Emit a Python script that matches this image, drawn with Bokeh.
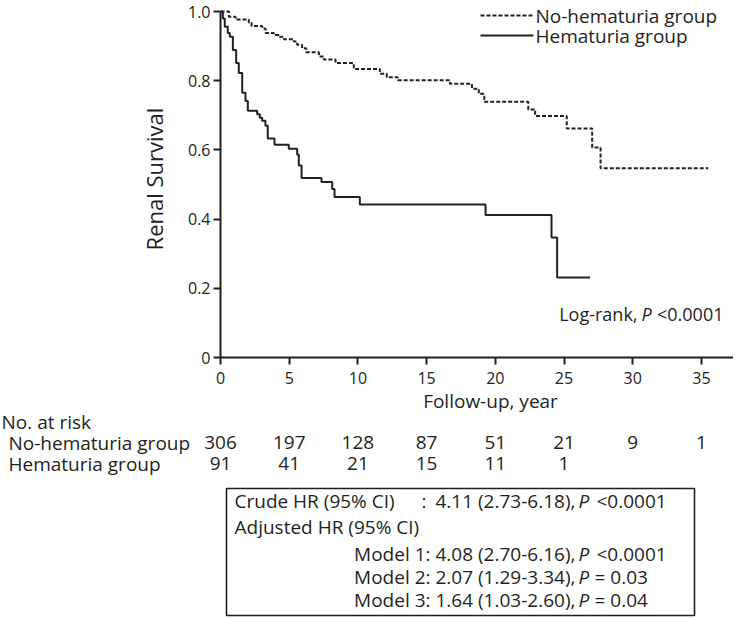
from bokeh.plotting import figure
from bokeh.models import Range1d, FixedTicker, ColumnDataSource
from bokeh.core.properties import value
from bokeh.embed import file_html
from bokeh.resources import INLINE

# ---------------- data ----------------
noh_time = [0, 0.61, 1.09, 2.06, 2.26, 3.03, 3.28, 3.88, 4.25, 4.61, 5.34, 5.58,
            5.94, 6.24, 7.16, 7.52, 8.37, 9.70, 11.60, 12.10, 12.90, 16.70, 18.30,
            18.80, 19.20, 22.40, 22.90, 25.20, 27.05, 27.66, 35.5]
noh_surv = [1.0, 0.985, 0.977, 0.968, 0.958, 0.951, 0.938, 0.932, 0.927, 0.920,
            0.913, 0.904, 0.894, 0.882, 0.870, 0.861, 0.851, 0.834, 0.820, 0.810,
            0.801, 0.791, 0.777, 0.762, 0.739, 0.717, 0.698, 0.662, 0.607, 0.547, 0.547]

hem_time = [0, 0.17, 0.31, 0.53, 0.68, 0.90, 1.14, 1.33, 1.58, 1.82, 1.99, 2.67,
            2.86, 3.03, 3.27, 3.44, 3.93, 4.97, 5.58, 5.70, 5.90, 7.35, 8.13, 8.30,
            10.14, 19.29, 24.09, 24.50, 26.9]
hem_surv = [1.0, 0.98, 0.956, 0.938, 0.927, 0.889, 0.851, 0.822, 0.765, 0.741,
            0.713, 0.703, 0.693, 0.684, 0.670, 0.633, 0.615, 0.603, 0.586, 0.555,
            0.519, 0.507, 0.487, 0.464, 0.442, 0.412, 0.347, 0.231, 0.231]

x_ticks = [0, 5, 10, 15, 20, 25, 30, 35]
y_ticks = [0, 0.2, 0.4, 0.6, 0.8, 1.0]
y_tick_labels = ["0", "0.2", "0.4", "0.6", "0.8", "1.0"]

group_names = ["No-hematuria group", "Hematuria group"]
risk_times = [0, 5, 10, 15, 20, 25, 30, 35]
noh_at_risk = [306, 197, 128, 87, 51, 21, 9, 1]
hem_at_risk = [91, 41, 21, 15, 11, 1]

y_title = "Renal Survival"
x_title = "Follow-up, year"
risk_title = "No. at risk"
logrank_label = "Log-rank,"
logrank_p = "<0.0001"

crude_label = "Crude HR (95% CI)"
crude_hr = "4.11 (2.73-6.18),"
crude_p = "<0.0001"
adjusted_label = "Adjusted HR (95% CI)"
model_names = ["Model 1:", "Model 2:", "Model 3:"]
model_hr = ["4.08 (2.70-6.16),", "2.07 (1.29-3.34),", "1.64 (1.03-2.60),"]
model_p = ["<0.0001", "= 0.03", "= 0.04"]

# ---------------- layout / style ----------------
FONT = "Open Sans"
INK = "#231f20"
W, H = 733, 617
LEFT = 220                 # page x of the y axis
AX_Y = 357                 # page y of the x axis
TOP_Y = 11                 # page y of survival 1.0
BOTTOM1 = 36               # room for the x tick labels
OVERLAP = 14               # lower panel slides up under the tick labels
FW = W - LEFT
FH = AX_Y
PX = 13.74                 # pixels per year
PY = AX_Y - TOP_Y          # pixels per unit survival
X_END = FW / PX
Y_END = FH / PY
TOP2 = FH + BOTTOM1 - OVERLAP   # page y where the lower panel starts
H2 = H - TOP2


def tx(page_x):
    """page x (px) -> years"""
    return (page_x - LEFT) / PX


def ty(page_y):
    """page y (px) -> survival units"""
    return (AX_Y - page_y) / PY


# ---------------- survival plot ----------------
p = figure(frame_width=FW, frame_height=FH,
           x_range=Range1d(0, X_END), y_range=Range1d(0, Y_END),
           output_backend="svg", toolbar_location=None,
           min_border_left=LEFT, min_border_right=0, min_border_top=0,
           min_border_bottom=BOTTOM1)
p.outline_line_color = None
p.xgrid.visible = False
p.ygrid.visible = False
p.background_fill_color = "white"
p.border_fill_color = "white"

for ax in (p.xaxis[0], p.yaxis[0]):
    ax.axis_line_width = 2
    ax.axis_line_color = INK
    ax.major_tick_line_width = 2
    ax.major_tick_line_color = INK
    ax.major_tick_out = 7
    ax.major_tick_in = 0
    ax.minor_tick_line_color = None
    ax.major_label_text_font = FONT
    ax.major_label_text_font_size = "16px"
    ax.major_label_text_color = INK

p.xaxis[0].ticker = FixedTicker(ticks=x_ticks)
p.xaxis[0].major_label_standoff = 7
p.yaxis[0].ticker = FixedTicker(ticks=y_ticks)
p.yaxis[0].major_label_overrides = dict(zip(y_ticks, y_tick_labels))
p.yaxis[0].bounds = (0, 1.0)
p.yaxis[0].major_label_standoff = 3
p.yaxis[0].axis_label = y_title
p.yaxis[0].axis_label_text_font = FONT
p.yaxis[0].axis_label_text_font_size = "22px"
p.yaxis[0].axis_label_text_font_style = "normal"
p.yaxis[0].axis_label_text_color = INK
p.yaxis[0].axis_label_standoff = 16

# survival curves
p.step(noh_time, noh_surv, mode="after", line_color=INK, line_width=2,
       line_dash="4 2")
p.step(hem_time, hem_surv, mode="after", line_color=INK, line_width=2)

# legend (drawn by hand, like the original)
leg_y = [ty(15), ty(35)]
p.line([tx(480), tx(533)], [leg_y[0], leg_y[0]], line_color=INK,
       line_width=1.8, line_dash="4 2")
p.line([tx(480), tx(533)], [leg_y[1], leg_y[1]], line_color=INK, line_width=2)
p.text(x=[tx(535), tx(535)], y=leg_y, text=group_names,
       text_font=value(FONT), text_font_size="19px", text_color=INK,
       text_baseline="middle", text_align="left")

# log-rank annotation
lr_y = ty(313)
LR = dict(text_font=value(FONT), text_font_size="18px", text_color=INK,
          text_baseline="middle")
p.text(x=[tx(637)], y=[lr_y], text=[logrank_label], text_align="right", **LR)
p.text(x=[tx(641)], y=[lr_y], text=["P"], text_align="left",
       text_font_style="italic", **LR)
p.text(x=[tx(723)], y=[lr_y], text=[logrank_p], text_align="right", **LR)

# ---------------- lower panel: axis title, numbers at risk, HR box ----------------
# same time scale as the plot above; y measured in page pixels (downwards)
q = figure(frame_width=W, frame_height=H2,
           x_range=Range1d(tx(0), tx(W)), y_range=Range1d(H, TOP2),
           x_axis_location=None, y_axis_location=None,
           output_backend="svg", toolbar_location=None, min_border=0)
q.margin = (-OVERLAP, 0, 0, 0)
q.xgrid.visible = False
q.ygrid.visible = False
q.outline_line_color = None
q.background_fill_color = None
q.border_fill_color = None

TXT = dict(text_font=value(FONT), text_font_size="19px", text_color=INK,
           text_baseline="middle")

q.text(x=[tx(490)], y=[400], text=[x_title], text_align="center", **TXT)
q.text(x=[tx(1)], y=[421], text=[risk_title], text_align="left", **TXT)
q.text(x=[tx(8), tx(8)], y=[442, 463], text=group_names, text_align="left", **TXT)

risk_src = ColumnDataSource(dict(
    x=risk_times + risk_times[:len(hem_at_risk)],
    y=[442] * len(noh_at_risk) + [463] * len(hem_at_risk),
    text=[str(v) for v in noh_at_risk] + [str(v) for v in hem_at_risk]))
q.text(x="x", y="y", text="text", source=risk_src, text_align="center", **TXT)

# HR box
q.quad(left=[tx(226)], right=[tx(694)], top=[488], bottom=[615],
       fill_color=None, line_color=INK, line_width=1.6)

row_y = [500, 526, 553, 576, 599]
q.text(x=[tx(234), tx(234)], y=row_y[:2], text=[crude_label, adjusted_label],
       text_align="left", **TXT)
q.text(x=[tx(421)], y=[row_y[0]], text=[":"], text_align="left", **TXT)
q.text(x=[tx(430)] * 3, y=row_y[2:], text=model_names, text_align="right", **TXT)
hr_rows = [row_y[0]] + row_y[2:]
q.text(x=[tx(435)] * 4, y=hr_rows, text=[crude_hr] + model_hr,
       text_align="left", **TXT)
q.text(x=[tx(578)] * 4, y=hr_rows, text=["P"] * 4, text_align="left",
       text_font_style="italic", **TXT)
p_vals = [crude_p] + model_p
q.text(x=[tx(596) if s.startswith("<") else tx(594) for s in p_vals], y=hr_rows,
       text=p_vals, text_align="left", **TXT)

open("out.html", "w").write(file_html([p, q], INLINE))
